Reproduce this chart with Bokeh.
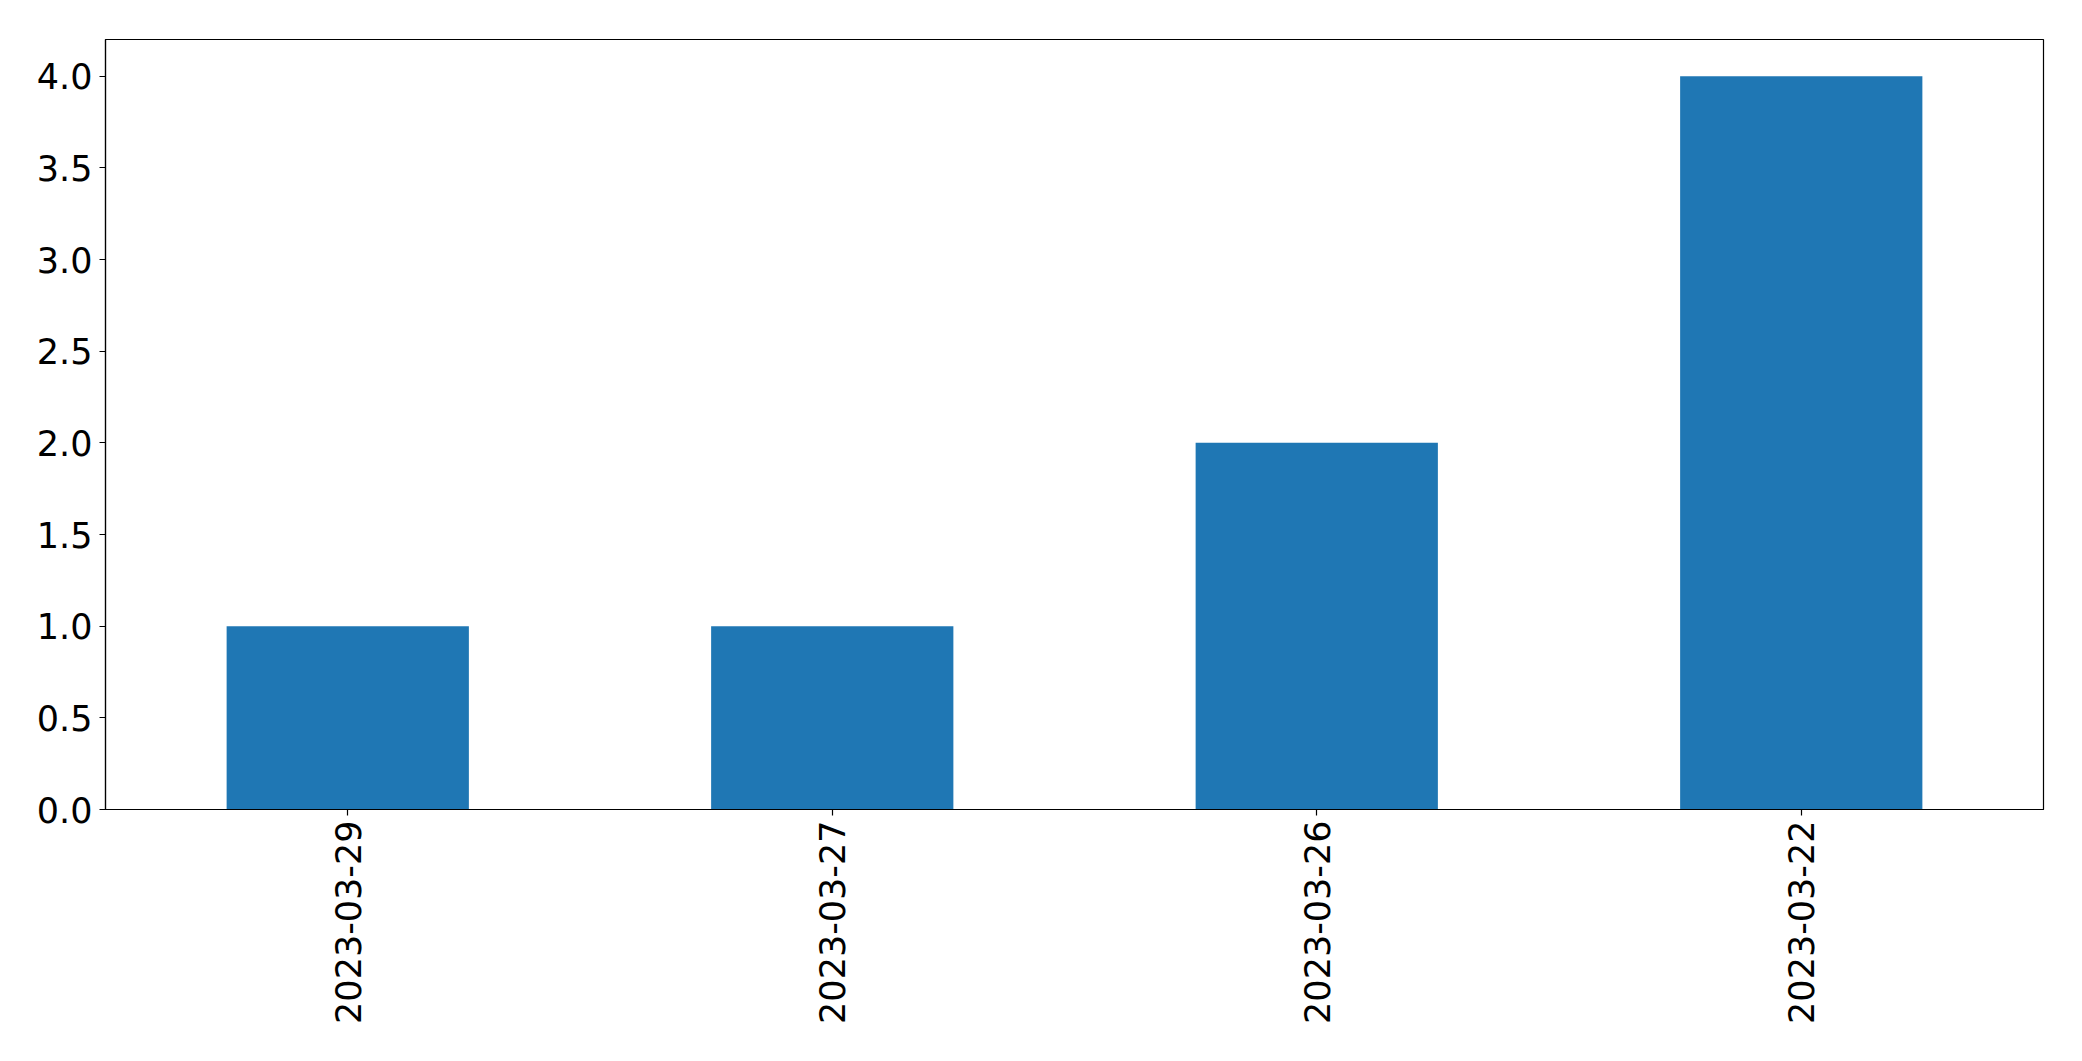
import math
from bokeh.plotting import figure
from bokeh.models import Range1d, FixedTicker, NumeralTickFormatter
from bokeh.embed import file_html
from bokeh.resources import INLINE

dates = ["2023-03-29", "2023-03-27", "2023-03-26", "2023-03-22"]
counts = [1, 1, 2, 4]
y_ticks = [0.0, 0.5, 1.0, 1.5, 2.0, 2.5, 3.0, 3.5, 4.0]

p = figure(x_range=dates, y_range=Range1d(0, 4.2),
           frame_width=1938, frame_height=770,
           min_border_left=105, min_border_top=39, min_border_right=30,
           min_border_bottom=20,
           output_backend="svg", toolbar_location=None)

p.vbar(x=dates, top=counts, width=0.5, color="#1f77b4", line_color=None)

p.xgrid.visible = False
p.ygrid.visible = False
p.outline_line_color = "black"
p.outline_line_width = 1.2
p.outline_line_alpha = 1.0
p.background_fill_color = "white"
p.border_fill_color = "white"

for ax in (p.xaxis[0], p.yaxis[0]):
    ax.major_label_text_font = "DejaVu Sans"
    ax.major_label_text_font_size = "35px"
    ax.major_label_text_color = "black"
    ax.axis_line_color = "black"
    ax.axis_line_width = 1.2
    ax.major_tick_line_color = "black"
    ax.major_tick_line_width = 1.2
    ax.major_tick_out = 6
    ax.major_tick_in = 0
    ax.minor_tick_line_color = None

p.yaxis.ticker = FixedTicker(ticks=y_ticks)
p.yaxis.formatter = NumeralTickFormatter(format="0.0")
p.yaxis.major_label_standoff = 7
p.xaxis.major_label_orientation = math.pi / 2
p.xaxis.major_label_standoff = 5
p.x_range.range_padding = 0
p.x_range.factor_padding = 0

open("out.html", "w").write(file_html(p, INLINE))
